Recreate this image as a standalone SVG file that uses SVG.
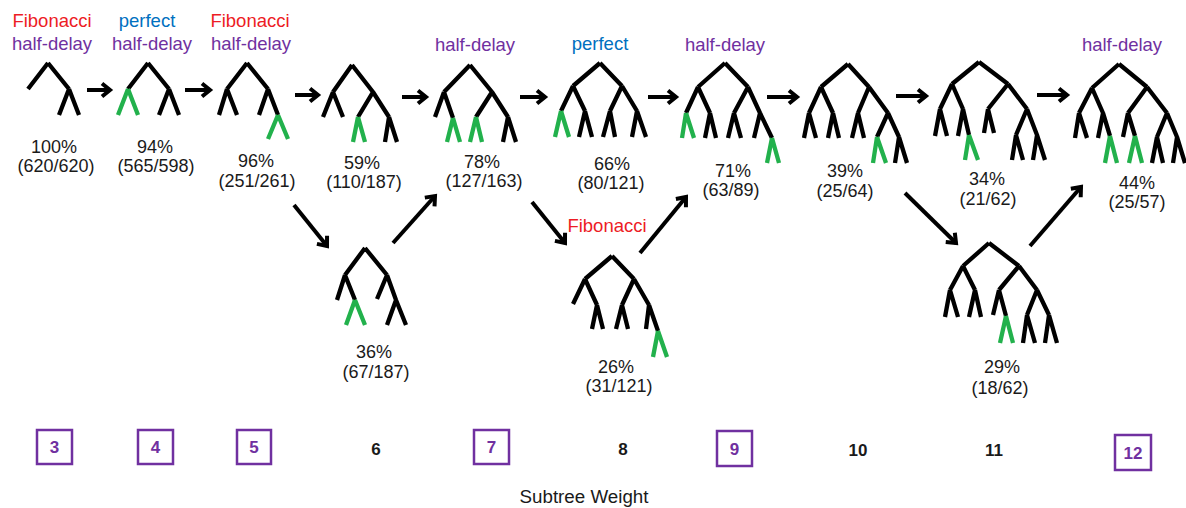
<svg xmlns="http://www.w3.org/2000/svg" width="1186" height="508" viewBox="0 0 1186 508">
<style>
text{font-family:"Liberation Sans",Arial,sans-serif;text-anchor:middle}
.lab{font-size:18.5px}
.fib{fill:#ED1C24}
.per{fill:#0070C0}
.hd{fill:#7030A0}
.pct{font-size:18px;fill:#1a1a1a}
.b{fill:none;stroke:#000;stroke-width:4.3;stroke-linecap:butt;stroke-linejoin:round}
.g{fill:none;stroke:#22B14C;stroke-width:4.3;stroke-linecap:butt}
.arr{fill:none;stroke:#000;stroke-width:4;marker-end:url(#ah)}
.box{fill:none;stroke:#7030A0;stroke-width:2.5}
.num{font-size:17px;font-weight:bold;fill:#1a1a1a}
.numb{font-size:17px;font-weight:bold;fill:#7030A0}
.ax{font-size:18px;fill:#1a1a1a}
</style>
<defs>
<marker id="ah" markerUnits="userSpaceOnUse" markerWidth="20" markerHeight="20" refX="11" refY="8" orient="auto" overflow="visible">
<path d="M3,1.5 L11,8 L3,14.5" fill="none" stroke="#000" stroke-width="4" stroke-linejoin="miter"/>
</marker>
</defs>

<g id="w3">
<text class="lab fib" x="52" y="27">Fibonacci</text>
<text class="lab hd" x="52" y="50">half-delay</text>
<path class="b" d="M48,63 L28,89 M48,63 L69,89 M69,89 L59,115 M69,89 L79,115"/>
<text class="pct" x="54" y="153">100%</text>
<text class="pct" x="56" y="172">(620/620)</text>
</g>

<g id="w4">
<text class="lab per" x="147" y="27">perfect</text>
<text class="lab hd" x="152" y="50">half-delay</text>
<path class="b" d="M148,63 L128,89 M148,63 L169,89 M169,89 L159,115 M169,89 L179,115"/>
<path class="g" d="M128,89 L118,115 M128,89 L138,115"/>
<text class="pct" x="155" y="153">94%</text>
<text class="pct" x="156" y="172">(565/598)</text>
</g>

<g id="w5">
<text class="lab fib" x="250" y="27">Fibonacci</text>
<text class="lab hd" x="251" y="50">half-delay</text>
<path class="b" d="M247,63 L227,89 M247,63 L268,89 M227,89 L219,115 M227,89 L237,115 M268,89 L259,115 M268,89 L278,115"/>
<path class="g" d="M278,115 L268,139 M278,115 L288,139"/>
<text class="pct" x="256" y="167">96%</text>
<text class="pct" x="257" y="187">(251/261)</text>
</g>

<g id="w6a">
<path class="b" d="M352,65 L333,92 M352,65 L373,92 M333,92 L323,117 M333,92 L343,117 M373,92 L358,117 M373,92 L389,117 M389,117 L385,142 M389,117 L397,142"/>
<path class="g" d="M358,117 L353,142 M358,117 L365,142"/>
<text class="pct" x="362" y="169">59%</text>
<text class="pct" x="364" y="188">(110/187)</text>
</g>

<g id="w6b">
<path class="b" d="M365,248 L345,275 M365,248 L387,275 M345,275 L337,300 M345,275 L355,300 M387,275 L377,299 M387,275 L396,300 M396,300 L387,325 M396,300 L406,325"/>
<path class="g" d="M355,300 L346,325 M355,300 L365,325"/>
<text class="pct" x="374" y="358">36%</text>
<text class="pct" x="376" y="378">(67/187)</text>
</g>

<g id="w7">
<text class="lab hd" x="475" y="51">half-delay</text>
<path class="b" d="M470,65 L444,92 M470,65 L492,92 M444,92 L435,117 M444,92 L453,118 M492,92 L476,117 M492,92 L508,117 M508,117 L503,142 M508,117 L516,142"/>
<path class="g" d="M453,118 L447,142 M453,118 L460,142 M476,117 L470,142 M476,117 L482,142"/>
<text class="pct" x="482" y="168">78%</text>
<text class="pct" x="484" y="187">(127/163)</text>
</g>

<g id="w8a">
<text class="lab per" x="600" y="50">perfect</text>
<path class="b" d="M600,63 L573,86 M600,63 L622,86 M573,86 L561,111 M573,86 L585,111 M622,86 L610,111 M622,86 L637,111 M585,111 L579,137 M585,111 L592,137 M610,111 L603,137 M610,111 L615,137 M637,111 L632,137 M637,111 L646,137"/>
<path class="g" d="M561,111 L555,137 M561,111 L569,137"/>
<text class="pct" x="612" y="170">66%</text>
<text class="pct" x="611" y="189">(80/121)</text>
</g>

<g id="w8b">
<text class="lab fib" x="607" y="232">Fibonacci</text>
<path class="b" d="M612,256 L585,279 M612,256 L634,279 M585,279 L573,304 M585,279 L597,305 M634,279 L622,305 M634,279 L649,305 M597,305 L592,329 M597,305 L603,329 M622,305 L616,329 M622,305 L628,329 M649,305 L646,329 M649,305 L658,331"/>
<path class="g" d="M658,331 L653,357 M658,331 L667,357"/>
<text class="pct" x="616" y="373">26%</text>
<text class="pct" x="619" y="392">(31/121)</text>
</g>

<g id="w9">
<text class="lab hd" x="725" y="51">half-delay</text>
<path class="b" d="M725,63 L698,87 M725,63 L748,87 M698,87 L686,113 M698,87 L710,113 M748,87 L734,113 M748,87 L760,113 M710,113 L705,138 M710,113 L716,138 M734,113 L728,138 M734,113 L741,138 M760,113 L754,138 M760,113 L772,138"/>
<path class="g" d="M686,113 L682,138 M686,113 L694,138 M772,138 L767,163 M772,138 L779,163"/>
<text class="pct" x="733" y="177">71%</text>
<text class="pct" x="731" y="196">(63/89)</text>
</g>

<g id="w10">
<path class="b" d="M848,64 L821,87 M848,64 L869,87 M821,87 L809,113 M821,87 L833,113 M869,87 L858,113 M869,87 L888,113 M809,113 L804,138 M809,113 L816,138 M833,113 L828,138 M833,113 L839,138 M858,113 L852,138 M858,113 L864,138 M888,113 L877,137 M888,113 L899,137 M899,137 L895,163 M899,137 L907,163"/>
<path class="g" d="M877,137 L873,163 M877,137 L886,163"/>
<text class="pct" x="845" y="177">39%</text>
<text class="pct" x="845" y="197">(25/64)</text>
</g>

<g id="w11a">
<path class="b" d="M979,62 L952,84 M979,62 L1008,84 M952,84 L940,109 M952,84 L963,109 M1008,84 L988,109 M1008,84 L1027,109 M940,109 L935,136 M940,109 L947,136 M963,109 L958,136 M963,109 L969,135 M988,109 L984,133 M988,109 L994,133 M1027,109 L1016,135 M1027,109 L1037,135 M1016,135 L1012,160 M1016,135 L1023,160 M1037,135 L1033,160 M1037,135 L1045,160"/>
<path class="g" d="M969,135 L965,160 M969,135 L978,160"/>
<text class="pct" x="987" y="185">34%</text>
<text class="pct" x="988" y="205">(21/62)</text>
</g>

<g id="w11b">
<path class="b" d="M989,243 L963,266 M989,243 L1019,266 M963,266 L950,290 M963,266 L975,290 M1019,266 L999,290 M1019,266 L1037,290 M950,290 L945,317 M950,290 L958,317 M975,290 L969,317 M975,290 L981,317 M999,290 L993,315 M999,290 L1006,316 M1037,290 L1027,315 M1037,290 L1049,315 M1027,315 L1023,343 M1027,315 L1035,343 M1049,315 L1045,343 M1049,315 L1057,343"/>
<path class="g" d="M1006,316 L1000,343 M1006,316 L1013,343"/>
<text class="pct" x="1002" y="373">29%</text>
<text class="pct" x="1000" y="394">(18/62)</text>
</g>

<g id="w12">
<text class="lab hd" x="1122" y="51">half-delay</text>
<path class="b" d="M1119,64 L1092,88 M1119,64 L1147,87 M1092,88 L1079,113 M1092,88 L1103,113 M1147,87 L1128,113 M1147,87 L1167,113 M1079,113 L1075,138 M1079,113 L1087,138 M1103,113 L1098,138 M1103,113 L1110,136 M1128,113 L1123,137 M1128,113 L1135,136 M1167,113 L1157,137 M1167,113 L1177,137 M1157,137 L1152,163 M1157,137 L1163,163 M1177,137 L1173,163 M1177,137 L1185,163"/>
<path class="g" d="M1110,136 L1105,163 M1110,136 L1117,163 M1135,136 L1129,163 M1135,136 L1142,163"/>
<text class="pct" x="1137" y="189">44%</text>
<text class="pct" x="1137" y="208">(25/57)</text>
</g>

<g id="connectors">
<line class="arr" x1="87" y1="90" x2="110" y2="90"/>
<line class="arr" x1="185" y1="90" x2="210" y2="90"/>
<line class="arr" x1="295" y1="95" x2="318" y2="95"/>
<line class="arr" x1="402" y1="97" x2="426" y2="97"/>
<line class="arr" x1="520" y1="97" x2="545" y2="97"/>
<line class="arr" x1="648" y1="97" x2="676" y2="97"/>
<line class="arr" x1="767" y1="97" x2="797" y2="97"/>
<line class="arr" x1="896" y1="96" x2="926" y2="96"/>
<line class="arr" x1="1037" y1="95" x2="1067" y2="95"/>
<line class="arr" x1="294" y1="205" x2="327" y2="246"/>
<line class="arr" x1="393" y1="243" x2="435" y2="196"/>
<line class="arr" x1="532" y1="202" x2="565" y2="243"/>
<line class="arr" x1="640" y1="253" x2="686" y2="197"/>
<line class="arr" x1="905" y1="193" x2="956" y2="243"/>
<line class="arr" x1="1030" y1="246" x2="1081" y2="187"/>
</g>

<g id="axis">
<rect class="box" x="37" y="430" width="35" height="34"/>
<text class="numb" x="54.5" y="453">3</text>
<rect class="box" x="138" y="430" width="35" height="34"/>
<text class="numb" x="155.5" y="453">4</text>
<rect class="box" x="237" y="430" width="34" height="34"/>
<text class="numb" x="254" y="453">5</text>
<text class="num" x="376" y="455">6</text>
<rect class="box" x="474" y="430" width="35" height="34"/>
<text class="numb" x="491.5" y="453">7</text>
<text class="num" x="623" y="455">8</text>
<rect class="box" x="717" y="431" width="35" height="35"/>
<text class="numb" x="734.5" y="455">9</text>
<text class="num" x="858" y="456">10</text>
<text class="num" x="994" y="456">11</text>
<rect class="box" x="1115" y="435" width="36" height="35"/>
<text class="numb" x="1133" y="459">12</text>
<text class="ax" x="584" y="503" textLength="129" lengthAdjust="spacingAndGlyphs">Subtree Weight</text>
</g>
</svg>
